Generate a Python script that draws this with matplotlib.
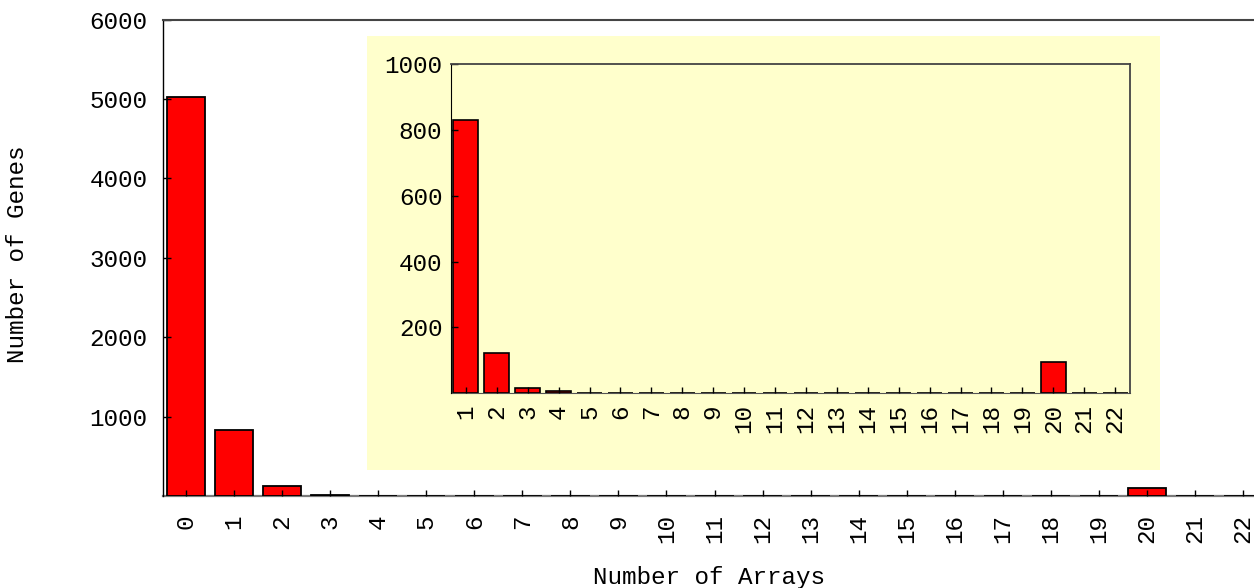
#!/usr/bin/env python3

import numpy
import matplotlib
matplotlib.use('Agg')
import matplotlib.pyplot as plt
from matplotlib.patches import Rectangle

# values
arrays = list(range(0, 23))
genes = [5020, 830, 122, 16, 6, 2, 1, 1, 1, 1, 1, 1,
         1, 1, 1, 1, 1, 1, 1, 1, 96, 1, 1]

main_yticks = [1000, 2000, 3000, 4000, 5000, 6000]
inset_yticks = [200, 400, 600, 800, 1000]

x_label = 'Number of Arrays'
y_label = 'Number of Genes'

plt.rcParams['font.family'] = ['Liberation Mono', 'DejaVu Sans Mono']
fs = 17.5
bar_red = '#ff0000'
pale_yellow = '#ffffcc'

fig = plt.figure(figsize=(12.54, 5.88), dpi=100)

# main chart
ax = fig.add_axes([0.13, 0.1565, 0.87, 0.8102])
ax.bar(arrays, genes, width=0.8, color=bar_red, edgecolor='black',
       linewidth=1.3, zorder=1)
ax.set_xlim(-0.48, 22.23)
ax.set_ylim(0, 6000)
ax.set_xticks(arrays)
ax.set_xticklabels([str(a) for a in arrays], rotation=90, fontsize=fs)
ax.set_yticks(main_yticks)
ax.set_yticklabels([str(v) for v in main_yticks], fontsize=fs)
ax.tick_params(axis='x', direction='in', length=4, width=1, pad=13)
ax.tick_params(axis='y', direction='in', length=6, width=1, pad=11)
ax.spines['right'].set_visible(False)
# grey base line sits under the bars, so the bar edges show as black
ax.spines['bottom'].set_color('#7a7a7a')
ax.spines['bottom'].set_linewidth(1.6)
ax.spines['bottom'].set_zorder(0.9)
ax.spines['top'].set_color('#444444')
ax.spines['top'].set_linewidth(1.5)
ax.spines['left'].set_linewidth(1.0)

# pale yellow panel behind the inset
panel = Rectangle((0.2927, 0.2007), 0.6324, 0.7381, transform=fig.transFigure,
                  facecolor=pale_yellow, edgecolor='none', zorder=0.5,
                  clip_on=False)
ax.add_patch(panel)

# inset chart, arrays 1..22
ins = fig.add_axes([0.3594, 0.3311, 0.5417, 0.56])
ins.set_facecolor(pale_yellow)
ins.bar(arrays[1:], genes[1:], width=0.8, color=bar_red, edgecolor='black',
        linewidth=1.2, zorder=1)
ins.set_xlim(0.51, 22.48)
ins.set_ylim(0, 1000)
ins.set_xticks(arrays[1:])
ins.set_xticklabels([str(a) for a in arrays[1:]], rotation=90, fontsize=fs)
ins.set_yticks(inset_yticks)
ins.set_yticklabels([str(v) for v in inset_yticks], fontsize=fs)
ins.tick_params(axis='x', direction='in', length=4, width=1, pad=8)
ins.tick_params(axis='y', direction='in', length=5, width=1, pad=6)
for side in ['top', 'right']:
    ins.spines[side].set_color('#444444')
    ins.spines[side].set_linewidth(1.3)
ins.spines['bottom'].set_color('#555555')
ins.spines['bottom'].set_zorder(0.9)

fig.text(18 / 1254, 0.568, y_label, rotation=90, fontsize=fs,
         ha='center', va='center')
fig.text(0.565, 0.0187, x_label, fontsize=fs, ha='center', va='center')

fig.savefig('out.png', dpi=100)
